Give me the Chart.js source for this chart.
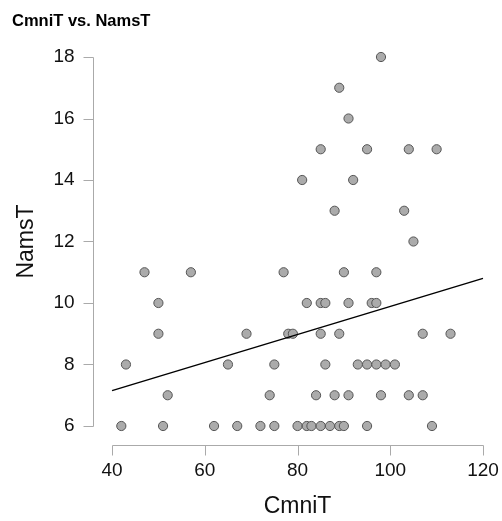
<!DOCTYPE html>
<html><head><meta charset="utf-8">
<script src="https://cdn.jsdelivr.net/npm/chart.js@4"></script>
<style>html,body{margin:0;padding:0;background:#fff}</style>
</head><body>
<canvas id="c" width="502" height="521"></canvas>
<script>
// Data
const cmniT = [
  98,
  89,
  91,
  85, 95, 104, 110,
  81, 92,
  88, 103,
  105,
  47, 57, 77, 90, 97,
  50, 82, 85, 86, 91, 96, 97,
  50, 69, 78, 79, 85, 89, 107, 113,
  43, 65, 75, 86, 93, 95, 97, 99, 101,
  52, 74, 84, 88, 91, 98, 104, 107,
  42, 51, 62, 67, 72, 75, 80, 82, 83, 85, 87, 89, 90, 95, 109
];
const namsT = [
  18,
  17,
  16,
  15, 15, 15, 15,
  14, 14,
  13, 13,
  12,
  11, 11, 11, 11, 11,
  10, 10, 10, 10, 10, 10, 10,
  9, 9, 9, 9, 9, 9, 9, 9,
  8, 8, 8, 8, 8, 8, 8, 8, 8,
  7, 7, 7, 7, 7, 7, 7, 7,
  6, 6, 6, 6, 6, 6, 6, 6, 6, 6, 6, 6, 6, 6, 6
];
const fitX = [40, 120];
const fitY = [7.15, 10.8];
const xTicks = [40, 60, 80, 100, 120];
const yTicks = [6, 8, 10, 12, 14, 16, 18];
// plotting region extends a little beyond the tick range (R style)
const xRange = [35.9, 124.1];
const yRange = [5.382, 18.618];

const FONT = "'Liberation Sans', Arial, sans-serif";
const AXIS_COLOR = '#aaaaaa';

const points = cmniT.map((v, i) => ({x: v, y: namsT[i]}));
const fitLine = fitX.map((v, i) => ({x: v, y: fitY[i]}));

const rAxes = {
  id: 'rAxes',
  afterDraw(chart) {
    const {ctx, chartArea: a, scales: {x, y}} = chart;
    ctx.save();
    ctx.strokeStyle = AXIS_COLOR;
    ctx.lineWidth = 1;
    ctx.beginPath();
    // y axis
    const ax = Math.round(a.left) + 0.5;
    const y0 = Math.round(y.getPixelForValue(yTicks[0])) + 0.5;
    const y1 = Math.round(y.getPixelForValue(yTicks[yTicks.length - 1])) + 0.5;
    ctx.moveTo(ax, y0); ctx.lineTo(ax, y1);
    yTicks.forEach(v => {
      const p = Math.round(y.getPixelForValue(v)) + 0.5;
      ctx.moveTo(ax, p); ctx.lineTo(ax - 10, p);
    });
    // x axis
    const ay = Math.round(a.bottom) + 0.5;
    const x0 = Math.round(x.getPixelForValue(xTicks[0])) + 0.5;
    const x1 = Math.round(x.getPixelForValue(xTicks[xTicks.length - 1])) + 0.5;
    ctx.moveTo(x0, ay); ctx.lineTo(x1, ay);
    xTicks.forEach(v => {
      const p = Math.round(x.getPixelForValue(v)) + 0.5;
      ctx.moveTo(p, ay); ctx.lineTo(p, ay + 10);
    });
    ctx.stroke();
    ctx.restore();
  }
};

const noEdgePadding = s => { s.paddingLeft = 0; s.paddingRight = 0; s.paddingTop = 0; s.paddingBottom = 0; };

new Chart(document.getElementById('c'), {
  type: 'scatter',
  data: {
    datasets: [
      {
        data: points,
        backgroundColor: '#ababab',
        borderColor: '#555555',
        borderWidth: 1,
        pointRadius: 4.6,
        pointHoverRadius: 4.6,
        order: 2
      },
      {
        type: 'line',
        data: fitLine,
        borderColor: '#000000',
        borderWidth: 1.5,
        pointRadius: 0,
        fill: false,
        order: 1
      }
    ]
  },
  options: {
    responsive: false,
    animation: false,
    events: [],
    layout: {autoPadding: false, padding: {left: 12, right: 0, top: 0, bottom: 0}},
    plugins: {
      legend: {display: false},
      tooltip: {enabled: false},
      title: {
        display: true,
        text: 'CmniT vs. NamsT',
        align: 'start',
        color: '#000',
        font: {family: FONT, size: 16.5, weight: 'bold'},
        padding: {top: 11.6, bottom: 6.6}
      }
    },
    scales: {
      x: {
        type: 'linear',
        min: xRange[0], max: xRange[1],
        afterBuildTicks: s => { s.ticks = xTicks.map(v => ({value: v})); },
        afterFit: noEdgePadding,
        grid: {display: true, drawOnChartArea: false, drawTicks: true, tickLength: 14.6, tickColor: 'rgba(0,0,0,0)', color: 'rgba(0,0,0,0)'},
        border: {display: false},
        ticks: {color: '#111', font: {family: FONT, size: 19}, padding: 0, maxRotation: 0},
        title: {display: true, text: 'CmniT', color: '#111', font: {family: FONT, size: 23}, padding: {top: 10, bottom: 1}}
      },
      y: {
        type: 'linear',
        min: yRange[0], max: yRange[1],
        afterBuildTicks: s => { s.ticks = yTicks.map(v => ({value: v})); },
        afterFit: noEdgePadding,
        grid: {display: true, drawOnChartArea: false, drawTicks: true, tickLength: 18.5, tickColor: 'rgba(0,0,0,0)', color: 'rgba(0,0,0,0)'},
        border: {display: false},
        ticks: {color: '#111', font: {family: FONT, size: 19}, padding: 0},
        title: {display: true, text: 'NamsT', color: '#111', font: {family: FONT, size: 23}, padding: {top: 1, bottom: 12.8}}
      }
    }
  },
  plugins: [rAxes]
});
</script>
</body></html>
